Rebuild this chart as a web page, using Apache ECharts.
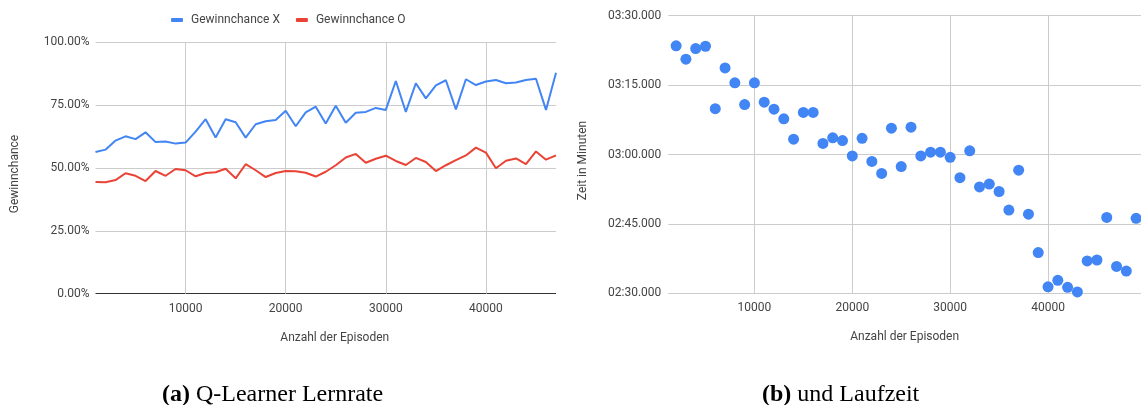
<!DOCTYPE html>
<html>
<head>
<meta charset="utf-8">
<script src="https://cdn.jsdelivr.net/npm/echarts@6/dist/echarts.min.js"></script>
<style>
  html, body { margin: 0; padding: 0; background: #fff; }
  #chart { width: 1141px; height: 405px; }
</style>
</head>
<body>
<div id="chart"></div>
<script>
// (a) Gewinnchance je Spieler über die Anzahl der Trainings-Episoden
const episodesA = [
  1000, 2000, 3000, 4000, 5000, 6000, 7000, 8000, 9000, 10000,
  11000, 12000, 13000, 14000, 15000, 16000, 17000, 18000, 19000, 20000,
  21000, 22000, 23000, 24000, 25000, 26000, 27000, 28000, 29000, 30000,
  31000, 32000, 33000, 34000, 35000, 36000, 37000, 38000, 39000, 40000,
  41000, 42000, 43000, 44000, 45000, 46000, 47000
];
const winChanceX = [
  56.4, 57.3, 60.9, 62.6, 61.5, 64.2, 60.3, 60.5, 59.7, 60.1,
  64.5, 69.4, 62.1, 69.4, 68.2, 62.1, 67.4, 68.6, 69.1, 72.8,
  66.6, 72.1, 74.4, 67.7, 74.8, 68.0, 72.0, 72.3, 73.9, 73.1,
  84.6, 72.3, 83.7, 77.7, 82.9, 84.9, 73.3, 85.3, 83.0, 84.4,
  85.0, 83.7, 84.0, 85.0, 85.5, 73.1, 87.9
];
const winChanceO = [
  44.4, 44.3, 45.2, 47.9, 46.9, 44.8, 48.8, 46.9, 49.6, 49.1,
  46.7, 48.0, 48.3, 49.7, 45.9, 51.5, 49.1, 46.4, 48.0, 48.8,
  48.7, 48.1, 46.6, 48.5, 51.1, 54.2, 55.6, 52.1, 53.7, 54.9,
  52.8, 51.2, 54.0, 52.4, 48.8, 51.1, 53.1, 55.0, 58.1, 56.1,
  49.9, 52.9, 53.8, 51.5, 56.6, 53.3, 55.0
];
const percentTicks = [0, 25, 50, 75, 100];

// (b) Laufzeit in Sekunden je Trainingslauf
const episodesB = [
  2000, 3000, 4000, 5000, 6000, 7000, 8000, 9000, 10000, 11000,
  12000, 13000, 14000, 15000, 16000, 17000, 18000, 19000, 20000, 21000,
  22000, 23000, 24000, 25000, 26000, 27000, 28000, 29000, 30000, 31000,
  32000, 33000, 34000, 35000, 36000, 37000, 38000, 39000, 40000, 41000,
  42000, 43000, 44000, 45000, 46000, 47000, 48000, 49000
];
const runtimeSeconds = [
  203.5, 200.6, 202.9, 203.4, 189.9, 198.7, 195.5, 190.8, 195.5, 191.3,
  189.8, 187.7, 183.3, 189.1, 189.1, 182.4, 183.6, 183.0, 179.7, 183.5,
  178.5, 175.9, 185.7, 177.4, 185.9, 179.7, 180.5, 180.5, 179.4, 175.0,
  180.8, 173.0, 173.6, 172.0, 168.0, 176.6, 167.1, 158.8, 151.4, 152.8,
  151.3, 150.3, 157.0, 157.2, 166.4, 155.8, 154.8, 166.2
];
const timeTicks = [150, 165, 180, 195, 210];

const BLUE = '#4285F4';
const RED = '#EA4335';
const GRID_LINE = '#cccccc';
const LABEL = '#444444';
const SANS = 'Roboto, "Liberation Sans", Arial, sans-serif';
const SERIF = '"Liberation Serif", "DejaVu Serif", serif';

const pairs = (xs, ys) => xs.map((x, i) => [x, ys[i]]);

function formatTime(v) {
  const m = Math.floor(v / 60);
  const s = Math.round(v - m * 60);
  return String(m).padStart(2, '0') + ':' + String(s).padStart(2, '0') + '.000';
}

const splitLine = {
  show: true, showMinLine: false, showMaxLine: false,
  lineStyle: { color: GRID_LINE, width: 1 }
};
const xLabel = {
  color: LABEL, fontFamily: SANS, fontSize: 12, margin: 9,
  showMinLabel: false, showMaxLabel: false, formatter: v => String(v)
};
const nameStyle = { color: LABEL, fontFamily: SANS, fontSize: 12 };
const captionStyle = {
  fontFamily: SERIF, fontSize: 24, fontWeight: 'normal', color: '#000',
  rich: { b: { fontFamily: SERIF, fontSize: 24, fontWeight: 'bold', color: '#000' } }
};

const chart = echarts.init(document.getElementById('chart'), null, { renderer: 'canvas' });

chart.setOption({
  animation: false,
  backgroundColor: '#ffffff',
  title: [
    { text: '{b|(a)} Q-Learner Lernrate', left: 157, top: 378, textStyle: captionStyle },
    { text: '{b|(b)} und Laufzeit', left: 757, top: 378, textStyle: captionStyle }
  ],
  legend: {
    data: ['Gewinnchance X', 'Gewinnchance O'],
    left: 166, top: 9,
    icon: 'roundRect', itemWidth: 12, itemHeight: 4, itemGap: 16,
    textStyle: { color: LABEL, fontFamily: SANS, fontSize: 12, padding: [0, 0, 0, 3] }
  },
  grid: [
    { left: 95.5, top: 42.3, width: 460.5, height: 251.4 },
    { left: 668.3, top: 15.7, width: 472.7, height: 277.6 }
  ],
  xAxis: [
    {
      gridIndex: 0, type: 'value', min: 1000, max: 47000,
      name: 'Anzahl der Episoden', nameLocation: 'middle', nameGap: 38,
      nameTextStyle: Object.assign({ padding: [0, 0, 0, 18] }, nameStyle),
      axisLine: { show: false }, axisTick: { show: false },
      axisLabel: xLabel, splitLine: splitLine
    },
    {
      gridIndex: 1, type: 'value', min: 1200, max: 49500,
      name: 'Anzahl der Episoden', nameLocation: 'middle', nameGap: 38,
      nameTextStyle: nameStyle,
      axisLine: { show: false }, axisTick: { show: false },
      axisLabel: xLabel, splitLine: splitLine
    }
  ],
  yAxis: [
    {
      gridIndex: 0, type: 'value', min: percentTicks[0], max: percentTicks[percentTicks.length - 1], interval: 25,
      name: 'Gewinnchance', nameLocation: 'middle', nameGap: 75,
      nameTextStyle: Object.assign({ padding: [0, 12, 0, 0] }, nameStyle),
      axisLine: { show: false }, axisTick: { show: false },
      axisLabel: { color: LABEL, fontFamily: SANS, fontSize: 12, margin: 6, formatter: v => v.toFixed(2) + '%' },
      splitLine: { show: true, lineStyle: { color: ['#333333', GRID_LINE, GRID_LINE, GRID_LINE, GRID_LINE], width: 1 } }
    },
    {
      gridIndex: 1, type: 'value', min: timeTicks[0], max: timeTicks[timeTicks.length - 1], interval: 15,
      name: 'Zeit in Minuten', nameLocation: 'middle', nameGap: 79,
      nameTextStyle: Object.assign({ padding: [0, 12, 0, 0] }, nameStyle),
      axisLine: { show: false }, axisTick: { show: false },
      axisLabel: { color: LABEL, fontFamily: SANS, fontSize: 12, margin: 7, formatter: formatTime },
      splitLine: { show: true, lineStyle: { color: GRID_LINE, width: 1 } }
    }
  ],
  series: [
    {
      name: 'Gewinnchance X', type: 'line', xAxisIndex: 0, yAxisIndex: 0,
      data: pairs(episodesA, winChanceX), showSymbol: false, symbol: 'none',
      itemStyle: { color: BLUE }, lineStyle: { color: BLUE, width: 2 }
    },
    {
      name: 'Gewinnchance O', type: 'line', xAxisIndex: 0, yAxisIndex: 0,
      data: pairs(episodesA, winChanceO), showSymbol: false, symbol: 'none',
      itemStyle: { color: RED }, lineStyle: { color: RED, width: 2 }
    },
    {
      name: 'Laufzeit', type: 'scatter', xAxisIndex: 1, yAxisIndex: 1,
      data: pairs(episodesB, runtimeSeconds), symbolSize: 11,
      itemStyle: { color: BLUE, opacity: 1 }
    }
  ]
});
</script>
</body>
</html>
